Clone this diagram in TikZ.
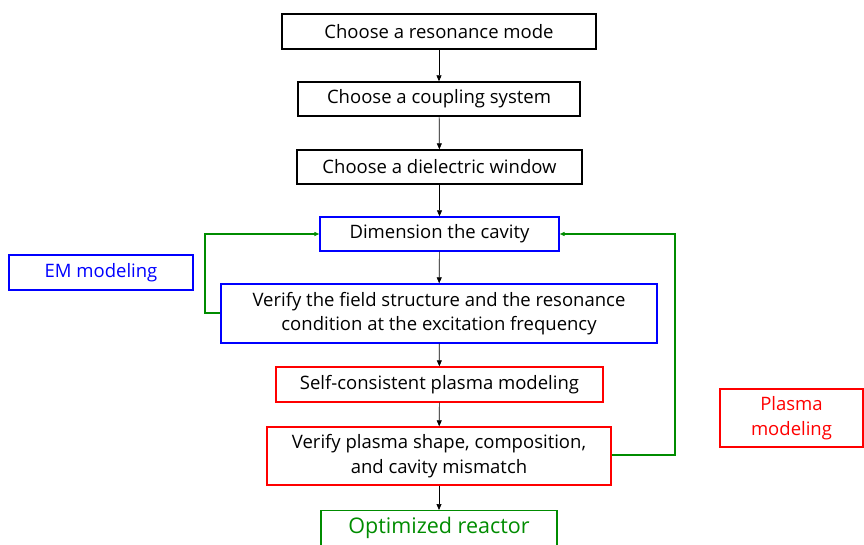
\documentclass[tikz,border=0pt]{standalone}
\usepackage{fontspec}
\setmainfont{Open Sans}
\usetikzlibrary{arrows.meta}
\begin{document}
\begin{tikzpicture}[x=1pt,y=-1pt,
  box/.style={draw, line width=1.4pt, rectangle, inner sep=0pt, align=center, font=\fontsize{18.5}{24.5}\selectfont},
  flow/.style={-{Triangle[length=6pt,width=5pt]}, line width=0.7pt, draw=black},
  fb/.style={-{Triangle[length=5pt,width=4pt]}, line width=1.2pt, draw=green!55!black}]
\useasboundingbox (0,0) rectangle (864,544);
\begin{scope}
\clip (0,0) rectangle (864,544);
\node[box, minimum width=314pt, minimum height=35pt] (b1) at (439,31.5) {Choose a resonance mode};
\node[box, minimum width=282pt, minimum height=34pt] (b2) at (439,99) {Choose a coupling system};
\node[box, minimum width=285pt, minimum height=34pt] (b3) at (439.5,167) {Choose a dielectric window};
\node[box, draw=blue, minimum width=239pt, minimum height=34pt] (b4) at (439.5,234) {Dimension the cavity};
\node[box, draw=blue, minimum width=436pt, minimum height=59pt] (b5) at (439,313.5) {Verify the field structure and the resonance\\condition at the excitation frequency};
\node[box, draw=red, minimum width=327pt, minimum height=35pt] (b6) at (439.5,384.5) {Self-consistent plasma modeling};
\node[box, draw=red, minimum width=344pt, minimum height=58pt] (b7) at (439,456) {Verify plasma shape, composition,\\and cavity mismatch};
\node[box, draw=green!55!black, minimum width=236pt, minimum height=44pt, anchor=north] (b8) at (439,510) {};
\node[text=green!55!black, font=\fontsize{21.5}{26}\selectfont] (t8) at (439,528) {Optimized reactor};
\node[box, draw=blue, text=blue, minimum width=184pt, minimum height=35pt] (em) at (101,272.5) {EM modeling};
\node[box, draw=red, text=red, minimum width=143pt, minimum height=58pt] (pm) at (791.5,418) {Plasma\\modeling};
\draw[flow] (b1) -- (b2);
\draw[flow] (b2) -- (b3);
\draw[flow] (b3) -- (b4);
\draw[flow] (b4) -- (b5);
\draw[flow] (b5) -- (b6);
\draw[flow] (b6) -- (b7);
\draw[flow] (b7) -- (b8);
\draw[fb] (b5.west |- 0,313) -- (205,313) -- (205,234) -- (b4.west);
\draw[fb] (b7.east |- 0,455) -- (675,455) -- (675,234) -- (b4.east);
\end{scope}
\end{tikzpicture}
\end{document}
